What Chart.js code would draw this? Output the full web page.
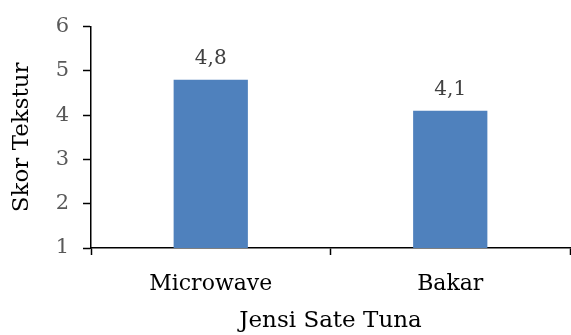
<!DOCTYPE html>
<html>
<head>
<meta charset="utf-8">
<script src="https://cdn.jsdelivr.net/npm/chart.js@4/dist/chart.umd.min.js"></script>
<style>
  html, body { margin: 0; padding: 0; background: #fff; }
  #wrap { width: 571px; height: 335px; }
</style>
</head>
<body>
<div id="wrap"><canvas id="chart"></canvas></div>
<script>
const categories = ["Microwave", "Bakar"];
const scores = [4.8, 4.1];
const scoreLabels = ["4,8", "4,1"];
const yTicks = [1, 2, 3, 4, 5, 6];

const FONT = "'DejaVu Serif', serif";

// draws the value above each bar
const valueLabels = {
    id: "valueLabels",
    afterDatasetsDraw(chart) {
        const ctx = chart.ctx;
        const meta = chart.getDatasetMeta(0);
        ctx.save();
        ctx.font = "20px " + FONT;
        ctx.fillStyle = "#404040";
        ctx.textAlign = "center";
        ctx.textBaseline = "alphabetic";
        meta.data.forEach((bar, i) => {
            ctx.fillText(scoreLabels[i], bar.x, bar.y - 16);
        });
        ctx.restore();
    }
};

new Chart(document.getElementById("chart"), {
    type: "bar",
    data: {
        labels: categories,
        datasets: [{
            data: scores,
            backgroundColor: "#4F81BD",
            barPercentage: 0.31,
            categoryPercentage: 1
        }]
    },
    options: {
        responsive: true,
        maintainAspectRatio: false,
        animation: false,
        layout: { padding: { top: 21, right: 1, bottom: 0, left: 0 } },
        plugins: {
            legend: { display: false },
            tooltip: { enabled: false }
        },
        scales: {
            x: {
                afterFit(scale) { scale.height = 87; },
                grid: {
                    drawOnChartArea: false,
                    drawTicks: true,
                    tickLength: 7,
                    tickColor: "#000",
                    tickWidth: 1.5
                },
                border: { color: "#000", width: 1.5 },
                ticks: {
                    color: "#000",
                    padding: 16,
                    font: { family: FONT, size: 22 }
                },
                title: {
                    display: true,
                    text: "Jensi Sate Tuna",
                    color: "#000",
                    padding: { top: 0, bottom: 0 },
                    font: { family: FONT, size: 23 }
                }
            },
            y: {
                min: 1,
                max: 6,
                afterFit(scale) { scale.width = 91; },
                afterBuildTicks(scale) { scale.ticks = yTicks.map(v => ({ value: v })); },
                grid: {
                    drawOnChartArea: false,
                    drawTicks: true,
                    tickLength: 8,
                    tickColor: "#000",
                    tickWidth: 1.5
                },
                border: { color: "#000", width: 1.5 },
                ticks: {
                    color: "#595959",
                    padding: 14,
                    font: { family: FONT, size: 21 }
                },
                title: {
                    display: true,
                    text: "Skor Tekstur",
                    color: "#000",
                    padding: { top: 8, bottom: 0 },
                    font: { family: FONT, size: 23 }
                }
            }
        }
    },
    plugins: [valueLabels]
});
</script>
</body>
</html>
